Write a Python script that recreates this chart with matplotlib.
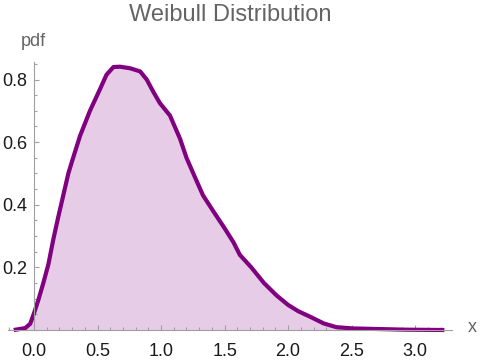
import matplotlib
matplotlib.use("Agg")
import matplotlib.pyplot as plt
from matplotlib.ticker import MultipleLocator, FormatStrFormatter

plt.rcParams['font.family'] = ['Liberation Sans', 'DejaVu Sans']

# density curve
x = [-0.16, -0.07, -0.03, 0.0, 0.034, 0.073, 0.113, 0.152, 0.19, 0.23, 0.27,
     0.30, 0.362, 0.44, 0.52, 0.57, 0.625, 0.677, 0.756, 0.835, 0.887, 0.94,
     0.99, 1.07, 1.15, 1.20, 1.27, 1.33, 1.41, 1.50, 1.57, 1.62, 1.71, 1.81,
     1.91, 2.00, 2.08, 2.17, 2.28, 2.38, 2.51, 2.72, 2.93, 3.23]
pdf = [0.0, 0.006, 0.02, 0.054, 0.096, 0.15, 0.21, 0.29, 0.36, 0.43, 0.50,
       0.54, 0.62, 0.70, 0.77, 0.815, 0.84, 0.841, 0.836, 0.826, 0.80, 0.76,
       0.725, 0.685, 0.61, 0.55, 0.485, 0.43, 0.38, 0.325, 0.28, 0.24, 0.20,
       0.15, 0.11, 0.08, 0.06, 0.043, 0.021, 0.009, 0.005, 0.003, 0.001, 0.0]

xticks = [0.0, 0.5, 1.0, 1.5, 2.0, 2.5, 3.0]
yticks = [0.2, 0.4, 0.6, 0.8]

W, H = 482, 363
fig = plt.figure(figsize=(W / 100, H / 100), dpi=100)
ax = fig.add_axes([8 / W, 33 / H, 444 / W, 268 / H])

ax.fill_between(x, pdf, 0, color='#e6cce6', lw=0, clip_on=False)
ax.plot(x, pdf, color='#800080', lw=3, solid_capstyle='butt',
        solid_joinstyle='round', clip_on=False)

ax.set_xlim(-0.205, 3.29)
ax.set_ylim(0, 0.856)

for s in ['top', 'right']:
    ax.spines[s].set_visible(False)
ax.spines['left'].set_position(('data', 0))
for s in ['left', 'bottom']:
    ax.spines[s].set_color('#a0a0a0')
    ax.spines[s].set_linewidth(0.8)

ax.set_xticks(xticks)
ax.set_yticks(yticks)
ax.xaxis.set_minor_locator(MultipleLocator(0.1))
ax.yaxis.set_minor_locator(MultipleLocator(0.05))
ax.xaxis.set_major_formatter(FormatStrFormatter('%.1f'))
ax.yaxis.set_major_formatter(FormatStrFormatter('%.1f'))
ax.tick_params(which='both', direction='in', color='#a0a0a0', width=0.8,
               labelsize=13, labelcolor='#1a1a1a')
ax.tick_params(which='major', length=3.8)
ax.tick_params(which='minor', length=2.2)
ax.tick_params(axis='x', pad=9)
ax.tick_params(axis='y', pad=5)

fig.text(230 / W, 1 - 15 / H, 'Weibull Distribution', ha='center', va='center',
         fontsize=17, color='#646464')
fig.text(33 / W, 1 - 41 / H, 'pdf', ha='center', va='center',
         fontsize=13, color='#646464')
fig.text(472 / W, 1 - 328 / H, 'x', ha='center', va='center',
         fontsize=13, color='#646464')

fig.savefig('out.png', dpi=100)
